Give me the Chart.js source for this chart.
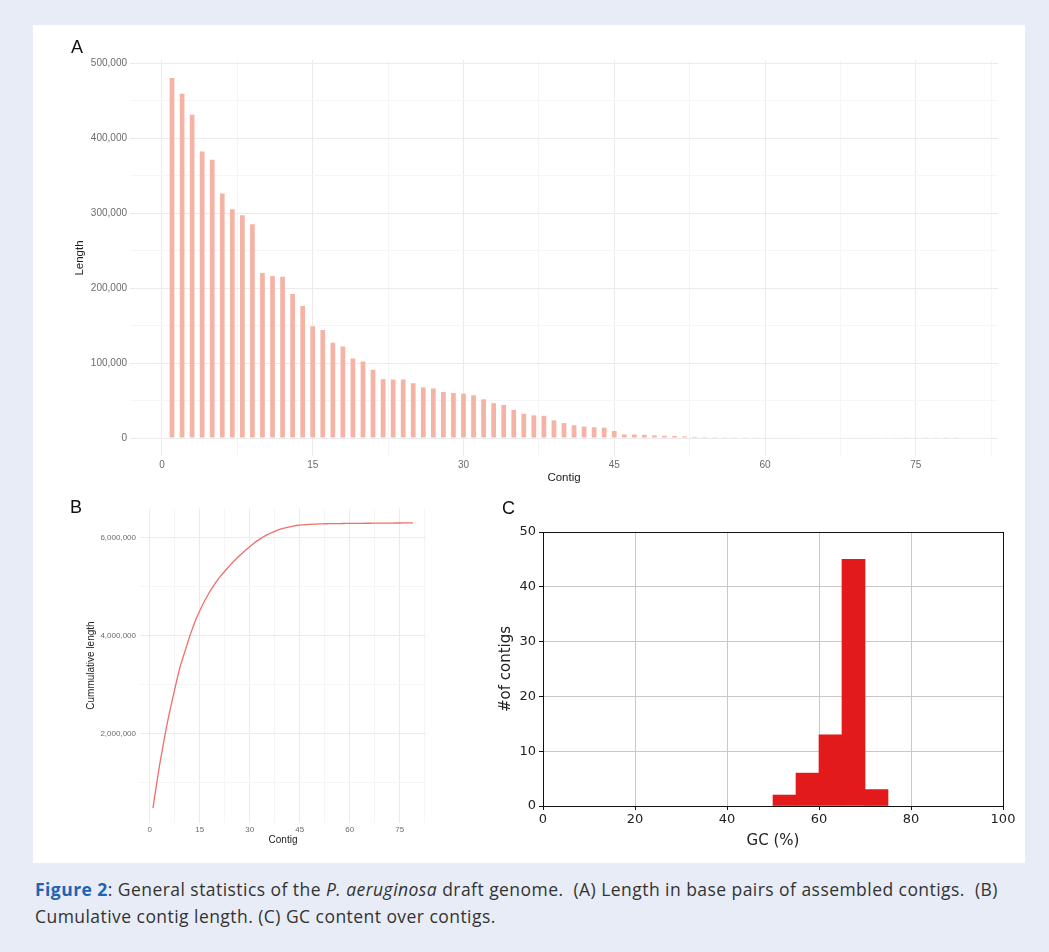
<!DOCTYPE html>
<html>
<head>
<meta charset="utf-8">
<script src="https://cdn.jsdelivr.net/npm/chart.js@4.4.1/dist/chart.umd.min.js"></script>
<style>
  html, body { margin: 0; padding: 0; }
  body { width: 1049px; height: 952px; background: #e7ecf6; position: relative; overflow: hidden; font-family: 'Liberation Sans', Arial, sans-serif; }
  .card { position: absolute; left: 33px; top: 25px; width: 992px; height: 838px; background: #fff; }
  canvas { position: absolute; }
  .tag { position: absolute; font-size: 18px; line-height: 18px; color: #111; }
  .caption { position: absolute; left: 35px; top: 876px; width: 1012px; font-family: 'Open Sans', sans-serif; font-size: 17.5px; letter-spacing: 0.45px; line-height: 27px; color: #333; white-space: nowrap; }
  .caption b { color: #1f63b5; }
</style>
</head>
<body>
<div class="card"></div>
<canvas id="chartA" width="992" height="465" style="left:33px;top:25px"></canvas>
<canvas id="chartB" width="440" height="365" style="left:33px;top:495px"></canvas>
<canvas id="chartC" width="552" height="365" style="left:473px;top:495px"></canvas>
<div class="tag" style="left:71px;top:38px">A</div>
<div class="tag" style="left:70px;top:498px">B</div>
<div class="tag" style="left:502px;top:499px">C</div>
<div class="caption"><b>Figure 2</b>: General statistics of the <i>P. aeruginosa</i> draft genome.&nbsp; (A) Length in base pairs of assembled contigs.&nbsp; (B)<br>Cumulative contig length. (C) GC content over contigs.</div>
<script>
// contig lengths (bp)
const contigs = [1, 2, 3, 4, 5, 6, 7, 8, 9, 10, 11, 12, 13, 14, 15, 16, 17, 18, 19, 20,
  21, 22, 23, 24, 25, 26, 27, 28, 29, 30, 31, 32, 33, 34, 35, 36, 37, 38, 39, 40,
  41, 42, 43, 44, 45, 46, 47, 48, 49, 50, 51, 52, 53, 54, 55, 56, 57, 58, 59, 60,
  61, 62, 63, 64, 65, 66, 67, 68, 69, 70, 71, 72, 73, 74, 75, 76, 77, 78, 79];
const lengths = [480000, 459000, 431000, 382000, 371000, 326000, 305000, 297000, 285000, 220000,
  216000, 215000, 192000, 176000, 149000, 144000, 127000, 122000, 106000, 102000,
  91000, 78500, 78000, 78000, 73000, 67500, 66000, 61300, 60000, 59100,
  57000, 51600, 46500, 44000, 37500, 32400, 30200, 29600, 23600, 19800,
  16900, 15200, 14300, 13800, 9300, 4800, 4600, 4200, 3500, 3000,
  2600, 2100, 1500, 1200, 1100, 1000, 950, 900, 850, 800,
  780, 750, 720, 700, 680, 650, 630, 600, 580, 560,
  540, 520, 500, 480, 460, 440, 420, 400, 380];
// cumulative length (bp), panel B
const cumulativeLength = [480000, 939000, 1370000, 1752000, 2123000, 2449000, 2754000, 3051000, 3336000, 3556000,
  3772000, 3987000, 4179000, 4355000, 4504000, 4648000, 4775000, 4897000, 5003000, 5105000,
  5196000, 5274500, 5352500, 5430500, 5503500, 5571000, 5637000, 5698300, 5758300, 5817400,
  5874400, 5926000, 5972500, 6016500, 6054000, 6086400, 6116600, 6146200, 6169800, 6189600,
  6206500, 6221700, 6236000, 6249800, 6259100, 6263900, 6268500, 6272700, 6276200, 6279200,
  6281800, 6283900, 6285400, 6286600, 6287700, 6288700, 6289650, 6290550, 6291400, 6292200,
  6292980, 6293730, 6294450, 6295150, 6295830, 6296480, 6297110, 6297710, 6298290, 6298850,
  6299390, 6299910, 6300410, 6300890, 6301350, 6301790, 6302210, 6302610, 6302990];
// GC histogram, panel C (bins of 5 %)
const gcBinCentres = [52.5, 57.5, 62.5, 67.5, 72.5];
const gcCounts = [2, 6, 13, 45, 3];

// ticks
const contigTicks = [0, 15, 30, 45, 60, 75];
const contigMinor = [7.5, 22.5, 37.5, 52.5, 67.5, 82.5];
const lengthTicks = [0, 100000, 200000, 300000, 400000, 500000];
const lengthMinor = [50000, 150000, 250000, 350000, 450000];
const cumTicks = [2000000, 4000000, 6000000];
const cumMinor = [1000000, 3000000, 5000000];
const gcTicks = [0, 20, 40, 60, 80, 100];
const countTicks = [0, 10, 20, 30, 40, 50];

const GG = "'Liberation Sans', Arial, sans-serif";
const MPL = "'DejaVu Sans', sans-serif";

function setTicks(major, minor) {
  return scale => { scale.ticks = major.concat(minor).sort((a, b) => a - b).map(v => ({ value: v })); };
}
function ggGrid(major) {
  return { offset: false, drawTicks: false, lineWidth: 1,
    color: c => (c.tick && major.includes(c.tick.value)) ? '#ebebeb' : '#f5f5f5' };
}
const fmt = v => v.toLocaleString('en-US');

const base = {
  responsive: false,
  animation: false,
  events: [],
  plugins: { legend: { display: false }, tooltip: { enabled: false } }
};

// A: contig lengths
new Chart(document.getElementById('chartA'), {
  type: 'bar',
  data: { datasets: [{
    data: contigs.map((c, i) => ({ x: c, y: lengths[i] })),
    backgroundColor: '#f5b3a5', borderWidth: 0,
    barPercentage: 0.47, categoryPercentage: 1
  }] },
  options: {
    ...base,
    layout: { padding: { top: 35, right: 27, bottom: 0, left: 0 } },
    scales: {
      x: {
        type: 'linear', min: -3.18, max: 83.18, offset: false, bounds: 'data',
        afterBuildTicks: setTicks(contigTicks, contigMinor),
        afterFit: s => { s.height = 34; },
        grid: ggGrid(contigTicks), border: { display: false },
        ticks: { autoSkip: false, maxRotation: 0, padding: 3, color: '#6b6b6b', font: { family: GG, size: 10 },
          callback: v => contigTicks.includes(v) ? String(v) : '' },
        title: { display: true, text: 'Contig', color: '#222', font: { family: GG, size: 11.5 }, padding: { top: 0, bottom: 5 } }
      },
      y: {
        type: 'linear', min: -24000, max: 504000, bounds: 'data',
        afterBuildTicks: setTicks(lengthTicks, lengthMinor),
        afterFit: s => { s.width = 97; },
        grid: ggGrid(lengthTicks), border: { display: false },
        ticks: { autoSkip: false, padding: 3, color: '#6b6b6b', font: { family: GG, size: 10 },
          callback: v => lengthTicks.includes(v) ? fmt(v) : '' },
        title: { display: true, text: 'Length', color: '#222', font: { family: GG, size: 11.5 }, padding: { top: 40, bottom: 0 } }
      }
    }
  }
});

// B: cumulative length
new Chart(document.getElementById('chartB'), {
  type: 'line',
  data: { datasets: [{
    data: contigs.map((c, i) => ({ x: c, y: cumulativeLength[i] })),
    borderColor: '#f06e6a', borderWidth: 1.3, pointRadius: 0, tension: 0, fill: false
  }] },
  options: {
    ...base,
    layout: { padding: { top: 13.6, right: 47, bottom: 0, left: 0 } },
    scales: {
      x: {
        type: 'linear', min: -2.9, max: 82.9, bounds: 'data',
        afterBuildTicks: setTicks(contigTicks, contigMinor),
        afterFit: s => { s.height = 37.5; },
        grid: ggGrid(contigTicks), border: { display: false },
        ticks: { autoSkip: false, maxRotation: 0, padding: 2, color: '#6b6b6b', font: { family: GG, size: 8 },
          callback: v => contigTicks.includes(v) ? String(v) : '' },
        title: { display: true, text: 'Contig', color: '#222', font: { family: GG, size: 10 }, padding: { top: 0, bottom: 14 } }
      },
      y: {
        type: 'linear', min: 188000, max: 6595000, bounds: 'data',
        afterBuildTicks: setTicks(cumTicks, cumMinor),
        afterFit: s => { s.width = 107; },
        grid: ggGrid(cumTicks), border: { display: false },
        ticks: { autoSkip: false, padding: 4, color: '#6b6b6b', font: { family: GG, size: 8 },
          callback: v => cumTicks.includes(v) ? fmt(v) : '' },
        title: { display: true, text: 'Cummulative length', color: '#222', font: { family: GG, size: 10 }, padding: { top: 52, bottom: 0 } }
      }
    }
  }
});

// C: GC content histogram, matplotlib look
const frame = {
  id: 'frame',
  afterDraw(chart) {
    const { ctx, chartArea: a } = chart;
    ctx.save();
    ctx.strokeStyle = '#111';
    ctx.lineWidth = 1;
    ctx.strokeRect(Math.round(a.left) + 0.5, Math.round(a.top) + 0.5, Math.round(a.right - a.left), Math.round(a.bottom - a.top));
    ctx.restore();
  }
};
const mplGrid = { offset: false, color: '#c8c8c8', lineWidth: 1, drawTicks: true, tickLength: 4, tickColor: '#111', tickWidth: 1 };
new Chart(document.getElementById('chartC'), {
  type: 'bar',
  data: { datasets: [{
    data: gcBinCentres.map((g, i) => ({ x: g, y: gcCounts[i] })),
    backgroundColor: '#e31a1c', borderWidth: 0,
    barPercentage: 1, categoryPercentage: 1
  }] },
  options: {
    ...base,
    layout: { padding: { top: 37, right: 22, bottom: 0, left: 0 } },
    scales: {
      x: {
        type: 'linear', min: 0, max: 100, offset: false, bounds: 'data',
        afterBuildTicks: setTicks(gcTicks, []),
        afterFit: s => { s.height = 54; },
        grid: mplGrid, border: { display: false },
        ticks: { autoSkip: false, maxRotation: 0, padding: 2, color: '#222', font: { family: MPL, size: 13 } },
        title: { display: true, text: 'GC (%)', color: '#222', font: { family: MPL, size: 15 }, padding: { top: 0, bottom: 10 } }
      },
      y: {
        type: 'linear', min: 0, max: 50, bounds: 'data',
        afterBuildTicks: setTicks(countTicks, []),
        afterFit: s => { s.width = 70; },
        grid: mplGrid, border: { display: false },
        ticks: { autoSkip: false, padding: 3, color: '#222', font: { family: MPL, size: 13 } },
        title: { display: true, text: '#of contigs', color: '#222', font: { family: MPL, size: 15 }, padding: { top: 24, bottom: 0 } }
      }
    }
  },
  plugins: [frame]
});
</script>
</body>
</html>
